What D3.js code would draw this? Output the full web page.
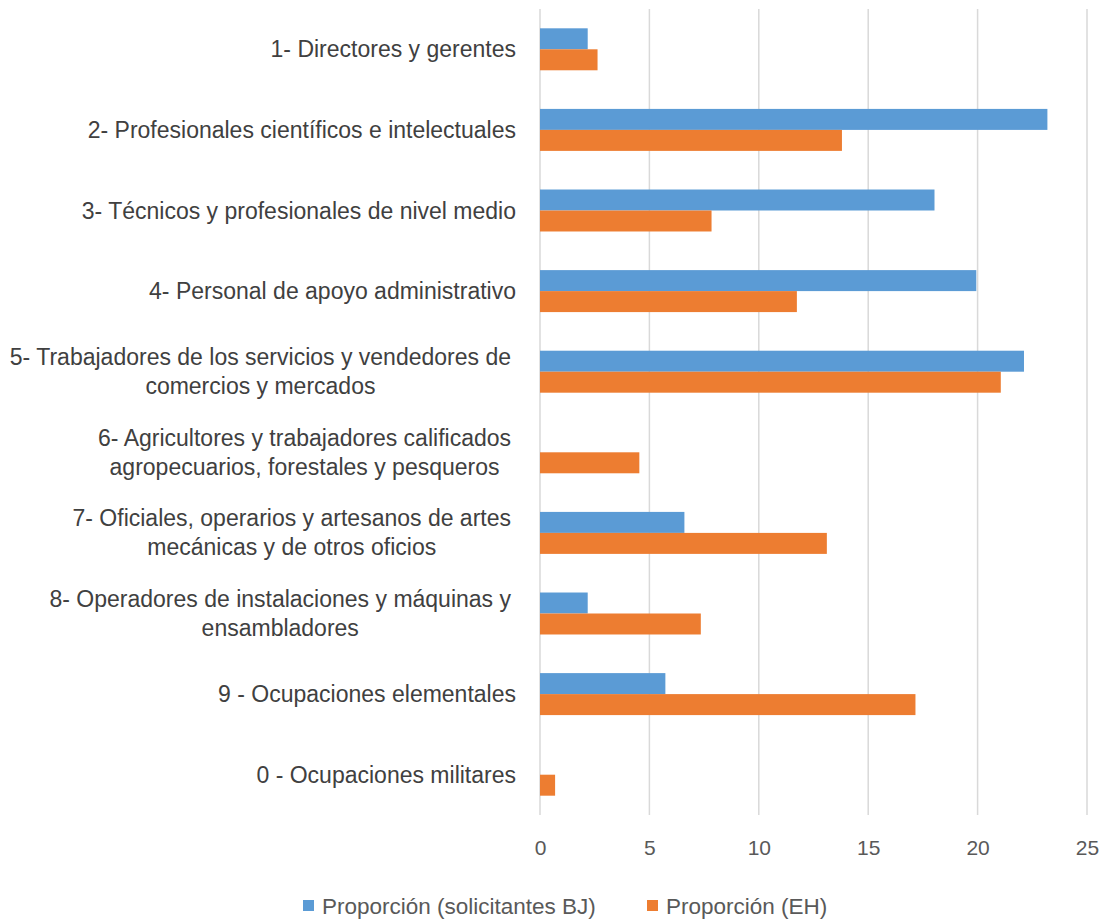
<!DOCTYPE html>
<html>
<head>
<meta charset="utf-8">
<script src="https://cdn.jsdelivr.net/npm/d3@7"></script>
<style>
  html, body { margin: 0; padding: 0; background: #fff; }
  svg { display: block; }
</style>
</head>
<body>
<svg id="chart" width="1105" height="920"></svg>
<script>
const categories = [
  ["1- Directores y gerentes"],
  ["2- Profesionales científicos e intelectuales"],
  ["3- Técnicos y profesionales de nivel medio"],
  ["4- Personal de apoyo administrativo"],
  ["5- Trabajadores de los servicios y vendedores de", "comercios y mercados"],
  ["6- Agricultores y trabajadores calificados", "agropecuarios, forestales y pesqueros"],
  ["7- Oficiales, operarios y artesanos de artes", "mecánicas y de otros oficios"],
  ["8- Operadores de instalaciones y máquinas y", "ensambladores"],
  ["9 - Ocupaciones elementales"],
  ["0 - Ocupaciones militares"]
];
const seriesNames = ["Proporción (solicitantes BJ)", "Proporción (EH)"];
const valuesBJ = [2.18, 23.19, 18.03, 19.94, 22.12, 0, 6.60, 2.18, 5.73, 0];
const valuesEH = [2.63, 13.80, 7.84, 11.74, 21.06, 4.54, 13.11, 7.35, 17.16, 0.69];
const xTicks = [0, 5, 10, 15, 20, 25];
const colors = ["#5B9BD5", "#ED7D31"];

const svg = d3.select("#chart");
const font = "'Liberation Sans', Arial, sans-serif";
const plot = { left: 540, right: 1087, top: 9, bottom: 815 };

const x = d3.scaleLinear().domain([0, 25]).range([plot.left, plot.right]);
const y = d3.scaleBand().domain(d3.range(categories.length)).range([plot.top, plot.bottom]).padding(0);
const ySub = d3.scaleBand().domain([0, 1]).range([0, y.bandwidth()]).paddingInner(0).paddingOuter(0.92);

// gridlines
svg.append("g").selectAll("line").data(xTicks).join("line")
  .attr("x1", d => x(d)).attr("x2", d => x(d))
  .attr("y1", plot.top).attr("y2", plot.bottom)
  .attr("stroke", "#d9d9d9").attr("stroke-width", 1.5);

// bars
const series = [valuesBJ, valuesEH];
series.forEach((vals, si) => {
  svg.append("g").selectAll("rect").data(vals).join("rect")
    .attr("x", x(0))
    .attr("y", (d, i) => y(i) + ySub(si))
    .attr("width", d => x(d) - x(0))
    .attr("height", ySub.bandwidth())
    .attr("fill", colors[si]);
});

// x axis tick labels
const xAxis = d3.axisBottom(x).tickValues(xTicks).tickSize(0).tickPadding(0).tickFormat(d3.format("d"));
const gx = svg.append("g").attr("transform", `translate(0, ${plot.bottom + 25})`).call(xAxis);
gx.select(".domain").remove();
gx.selectAll("text").attr("font-family", font).attr("font-size", 21).attr("fill", "#595959");

// category labels
const labelRight = 516;
const lineH = 29;
const fs = 23;
const lg = svg.append("g");
categories.forEach((lines, i) => {
  const cy = y(i) + y.bandwidth() / 2;
  const g = lg.append("g");
  const texts = lines.map((t, k) => g.append("text")
    .attr("font-family", font).attr("font-size", fs).attr("fill", "#404040")
    .attr("dominant-baseline", "central")
    .attr("y", cy + (k - (lines.length - 1) / 2) * lineH)
    .text(t));
  const widths = texts.map(t => t.node().getComputedTextLength());
  const maxW = d3.max(widths);
  const right = lines.length > 1 ? labelRight - 5 : labelRight;
  texts.forEach(t => t.attr("text-anchor", "middle").attr("x", right - maxW / 2));
});

// legend
const legend = svg.append("g");
const legendX = [303, 647];
seriesNames.forEach((name, i) => {
  legend.append("rect").attr("x", legendX[i]).attr("y", 900).attr("width", 11).attr("height", 11).attr("fill", colors[i]);
  legend.append("text").attr("x", legendX[i] + 19).attr("y", 906)
    .attr("dominant-baseline", "central")
    .attr("font-family", font).attr("font-size", 22.5).attr("fill", "#595959").text(name);
});
</script>
</body>
</html>
